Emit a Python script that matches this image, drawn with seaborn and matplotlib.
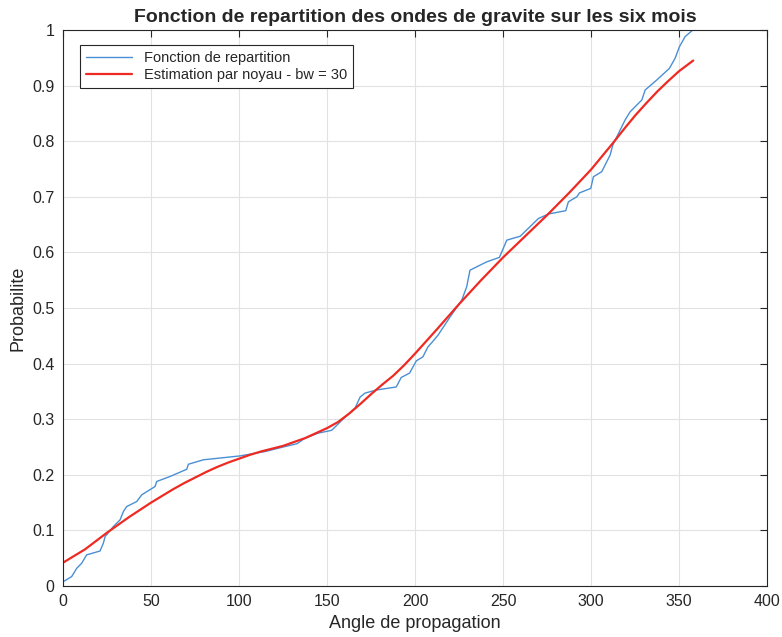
import numpy as np
import pandas as pd
import matplotlib
matplotlib.use('Agg')
import matplotlib.pyplot as plt
import seaborn as sns

angle_ecdf = [0, 0.2, 4.9, 7.8, 10.6, 13.4, 21, 22.9, 23.9, 28.6, 32.4, 34.3, 36.2, 41.9, 44.7,
              52.3, 53.2, 60.8, 70.3, 71.2, 79.7, 100.6, 115, 125, 133, 137, 145, 152.6,
              159, 165.9, 168.8, 171.6, 178, 189.3, 192.1, 196.9, 200.7, 204.4, 207.3,
              210.1, 213, 219.9, 226.5, 229.3, 231.2, 240.7, 247.9, 252.1, 259.7, 270.1,
              275.8, 285.6, 287.1, 291.9, 293.4, 299.8, 301.3, 306, 310.8, 312.3, 316.5,
              319.3, 322.2, 328.8, 330.7, 337.3, 344.5, 347.7, 350.2, 353.4, 357.8]
prob_ecdf = [0.005, 0.008, 0.017, 0.032, 0.041, 0.056, 0.063, 0.077, 0.089, 0.107, 0.119, 0.134,
             0.143, 0.152, 0.164, 0.179, 0.188, 0.197, 0.21, 0.219, 0.227, 0.234, 0.242,
             0.25, 0.256, 0.265, 0.275, 0.28, 0.3, 0.32, 0.34, 0.347, 0.3525, 0.358, 0.375,
             0.383, 0.405, 0.412, 0.43, 0.44, 0.451, 0.484, 0.514, 0.538, 0.568, 0.583,
             0.591, 0.622, 0.629, 0.661, 0.669, 0.675, 0.691, 0.7, 0.707, 0.715, 0.736,
             0.745, 0.775, 0.793, 0.82, 0.838, 0.853, 0.874, 0.892, 0.91, 0.931, 0.949,
             0.97, 0.988, 1.0]

# kernel estimate (bw = 30)
angle_kde = [0, 6.25, 12.5, 18.75, 25, 31.25, 37.5, 43.75, 50, 56.25, 62.5, 68.75, 75,
             81.25, 87.5, 93.75, 100, 106.25, 112.5, 118.75, 125, 137.5, 150, 156.25, 162.5,
             168.75, 175, 181.25, 187.5, 193.75, 200, 206.25, 212.5, 225, 237.5, 250,
             262.5, 275, 287.5, 300, 312.5, 318.75, 325, 331.25, 337.5, 343.75, 350, 358]
prob_kde = [0.042, 0.054, 0.066, 0.081, 0.096, 0.110, 0.124, 0.137, 0.150, 0.162, 0.174,
            0.185, 0.195, 0.205, 0.214, 0.222, 0.229, 0.236, 0.242, 0.247, 0.252, 0.266,
            0.284, 0.295, 0.310, 0.327, 0.345, 0.362, 0.378, 0.397, 0.418, 0.440, 0.462,
            0.507, 0.550, 0.591, 0.629, 0.667, 0.707, 0.749, 0.797, 0.822, 0.846, 0.868,
            0.889, 0.908, 0.926, 0.945]

sns.set_style('whitegrid')
plt.rcParams['font.family'] = ['Liberation Sans', 'DejaVu Sans']

fig = plt.figure(figsize=(7.82, 6.37), dpi=100)
ax = fig.add_axes([0.0806, 0.080, 0.9004, 0.873])

sns.lineplot(x=angle_ecdf, y=prob_ecdf, ax=ax, color='#4a8fd4', linewidth=1.0,
             label='Fonction de repartition', sort=False)
sns.lineplot(x=angle_kde, y=prob_kde, ax=ax, color='#ee2a22', linewidth=1.6,
             label='Estimation par noyau - bw = 30', sort=False)

ax.set_xlim(0, 400)
ax.set_ylim(0, 1)
ax.set_xticks(np.arange(0, 401, 50))
ax.set_yticks(np.arange(0, 1.01, 0.1))
ax.set_yticklabels(['0', '0.1', '0.2', '0.3', '0.4', '0.5', '0.6', '0.7', '0.8', '0.9', '1'])
ax.grid(True, color='#e2e2e2', linewidth=0.8)
for s in ax.spines.values():
    s.set_color('#262626')
    s.set_linewidth(0.8)
ax.tick_params(direction='in', top=True, right=True, length=5, width=0.8,
               colors='#262626', labelsize=11.5, pad=6)

ax.set_xlabel('Angle de propagation', fontsize=13, color='#262626')
ax.set_ylabel('Probabilite', fontsize=13, color='#262626')
ax.set_title('Fonction de repartition des ondes de gravite sur les six mois',
             fontsize=14, fontweight='bold', pad=6)

leg = ax.legend(loc='upper left', bbox_to_anchor=(0.0135, 0.9856), fontsize=10.5,
                frameon=True, fancybox=False, edgecolor='#262626', framealpha=1,
                handlelength=3.2, borderpad=0.4, labelspacing=0.2)
leg.get_frame().set_linewidth(0.8)

fig.savefig('out.png', dpi=100)
